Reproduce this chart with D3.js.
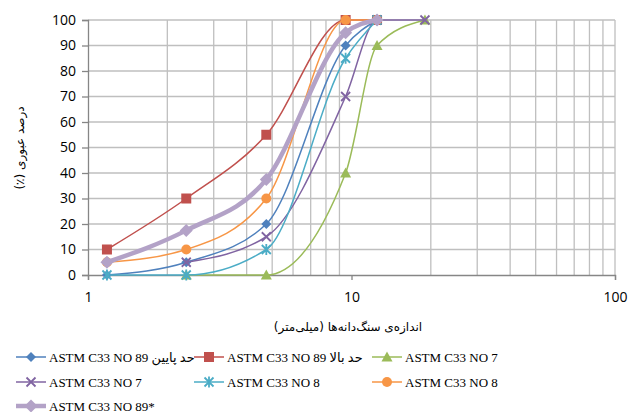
<!DOCTYPE html>
<html>
<head>
<meta charset="utf-8">
<script src="https://d3js.org/d3.v7.min.js"></script>
<style>
  body { margin: 0; background: #fff; }
</style>
</head>
<body>
<script>
var sieves = [1.18, 2.36, 4.75, 9.5, 12.5, 19];
var seriesNames = [
  "ASTM C33 NO 89 حد پایین",
  "ASTM C33 NO 89 حد بالا",
  "ASTM C33 NO 7",
  "ASTM C33 NO 7",
  "ASTM C33 NO 8",
  "ASTM C33 NO 8",
  "ASTM C33 NO 89*"
];
var no89Low  = [0, 5, 20, 90, 100, null];
var no89High = [10, 30, 55, 100, 100, null];
var no7Low   = [null, 0, 0, 40, 90, 100];
var no7High  = [null, 5, 15, 70, 100, 100];
var no8Low   = [0, 0, 10, 85, 100, null];
var no8High  = [5, 10, 30, 100, 100, null];
var no89Star = [5, 17.5, 37.5, 95, 100, null];
var yTicks = [0, 10, 20, 30, 40, 50, 60, 70, 80, 90, 100];
var xTicks = [1, 10, 100];

var allValues = [no89Low, no89High, no7Low, no7High, no8Low, no8High, no89Star];
var colors = ["#4F81BD", "#C0504D", "#9BBB59", "#8064A2", "#4BACC6", "#F79646", "#B3A2C7"];
var markers = ["diamond", "square", "triangle", "x", "star", "circle", "diamond"];
var widths = [1.5, 1.5, 1.5, 1.5, 1.5, 1.5, 4.5];

var width = 628, height = 412;
var svg = d3.select("body").append("svg")
    .attr("width", width).attr("height", height);

var x = d3.scaleLog().domain([1, 100]).range([88, 615]);
var y = d3.scaleLinear().domain([0, 100]).range([275, 20]);

// grid
var minor = [];
[1, 10].forEach(function(d){ for (var k = 2; k <= 9; k++) minor.push(d * k); });
var grid = svg.append("g");
grid.selectAll("line.v").data(minor.concat([100])).enter().append("line")
    .attr("x1", function(d){ return x(d); }).attr("x2", function(d){ return x(d); })
    .attr("y1", y(100)).attr("y2", y(0))
    .attr("stroke", "#bfbfbf").attr("stroke-width", 1.3);
grid.selectAll("line.h").data(yTicks.slice(1)).enter().append("line")
    .attr("x1", x(1)).attr("x2", x(100))
    .attr("y1", function(d){ return y(d); }).attr("y2", function(d){ return y(d); })
    .attr("stroke", "#bfbfbf").attr("stroke-width", 1.3);

// axes
var yAxis = d3.axisLeft(y).tickValues(yTicks).tickSize(6).tickPadding(6);
var xAxis = d3.axisBottom(x).tickValues(xTicks).tickFormat(d3.format("d")).tickSize(5).tickPadding(12);
var gy = svg.append("g").attr("transform", "translate(" + x(1) + ",0)").call(yAxis);
var gx = svg.append("g").attr("transform", "translate(0," + y(0) + ")").call(xAxis);
[gx, gy].forEach(function(g){
  g.select(".domain").attr("stroke", "#868686").attr("stroke-width", 1.3);
  g.selectAll(".tick line").attr("stroke", "#868686").attr("stroke-width", 1.3);
  g.selectAll("text").attr("font-family", "Open Sans, Liberation Sans, sans-serif")
    .attr("font-size", 14).attr("fill", "#000");
});

// titles
svg.append("text").attr("x", 348).attr("y", 331).attr("text-anchor", "middle")
   .attr("direction", "rtl")
   .attr("font-family", "DejaVu Sans").attr("font-size", 12)
   .text("اندازه‌ی سنگ‌دانه‌ها (میلی‌متر)");
svg.append("text").attr("transform", "translate(24,148) rotate(-90)")
   .attr("text-anchor", "middle").attr("direction", "rtl")
   .attr("font-family", "DejaVu Sans").attr("font-size", 12)
   .text("درصد عبوری (٪)");

function drawMarker(g, type, color, cx, cy, big) {
  var s = big ? 1.3 : 1;
  if (type === "diamond") {
    var r = 5 * s;
    g.append("path").attr("d", "M" + cx + "," + (cy - r) + "L" + (cx + r) + "," + cy + "L" + cx + "," + (cy + r) + "L" + (cx - r) + "," + cy + "Z")
      .attr("fill", color);
  } else if (type === "square") {
    g.append("rect").attr("x", cx - 5).attr("y", cy - 5).attr("width", 10).attr("height", 10).attr("fill", color);
  } else if (type === "triangle") {
    g.append("path").attr("d", "M" + cx + "," + (cy - 5.5) + "L" + (cx + 5.5) + "," + (cy + 4.5) + "L" + (cx - 5.5) + "," + (cy + 4.5) + "Z")
      .attr("fill", color);
  } else if (type === "x") {
    g.append("path").attr("d", "M" + (cx - 4.5) + "," + (cy - 4.5) + "L" + (cx + 4.5) + "," + (cy + 4.5) + "M" + (cx + 4.5) + "," + (cy - 4.5) + "L" + (cx - 4.5) + "," + (cy + 4.5))
      .attr("stroke", color).attr("stroke-width", 1.8);
  } else if (type === "star") {
    g.append("path").attr("d", "M" + (cx - 4.5) + "," + (cy - 4.5) + "L" + (cx + 4.5) + "," + (cy + 4.5) + "M" + (cx + 4.5) + "," + (cy - 4.5) + "L" + (cx - 4.5) + "," + (cy + 4.5) + "M" + cx + "," + (cy - 5.5) + "L" + cx + "," + (cy + 5.5))
      .attr("stroke", color).attr("stroke-width", 1.8);
  } else if (type === "circle") {
    g.append("circle").attr("cx", cx).attr("cy", cy).attr("r", 5).attr("fill", color);
  }
}

var line = d3.line()
    .x(function(d){ return x(d[0]); })
    .y(function(d){ return y(d[1]); })
    .curve(d3.curveMonotoneX);

allValues.forEach(function(vals, i){
  var pts = sieves.map(function(s, j){ return [s, vals[j]]; }).filter(function(p){ return p[1] !== null; });
  var g = svg.append("g");
  g.append("path").datum(pts).attr("d", line)
    .attr("fill", "none").attr("stroke", colors[i]).attr("stroke-width", widths[i])
    .attr("stroke-linejoin", "round").attr("stroke-linecap", "round");
  pts.forEach(function(p){ drawMarker(g, markers[i], colors[i], x(p[0]), y(p[1]), i === 6); });
});

// legend
var legX = [16, 194, 372], legY = [357, 382, 406];
seriesNames.forEach(function(name, i){
  var lx = legX[i % 3], ly = legY[Math.floor(i / 3)];
  var g = svg.append("g");
  g.append("line").attr("x1", lx).attr("x2", lx + 30).attr("y1", ly).attr("y2", ly)
    .attr("stroke", colors[i]).attr("stroke-width", widths[i]);
  drawMarker(g, markers[i], colors[i], lx + 15, ly, i === 6);
  g.append("text").attr("x", lx + 33).attr("y", ly + 4.5)
    .attr("font-family", "Liberation Serif, DejaVu Sans, serif").attr("font-size", 13)
    .attr("direction", "ltr")
    .text(name);
});
</script>
</body>
</html>
